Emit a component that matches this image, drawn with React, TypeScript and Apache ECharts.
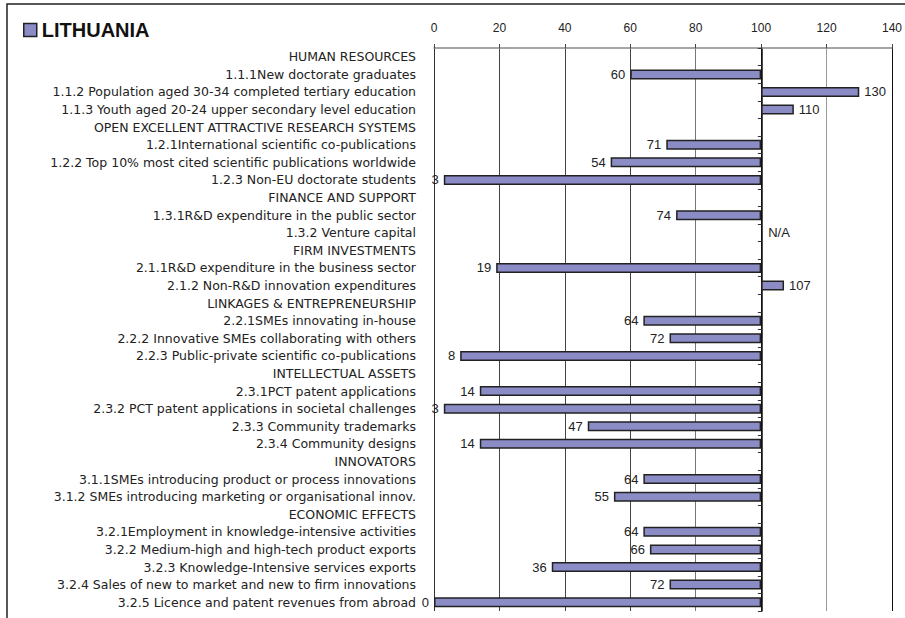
import React, { useEffect, useRef } from 'react';
import * as echarts from 'echarts';

const title = 'LITHUANIA';

const categories: string[] = [
  'HUMAN RESOURCES',
  '1.1.1New doctorate graduates',
  '1.1.2 Population aged 30-34 completed tertiary education',
  '1.1.3 Youth aged 20-24 upper secondary level education',
  'OPEN EXCELLENT ATTRACTIVE RESEARCH SYSTEMS',
  '1.2.1International scientific co-publications',
  '1.2.2 Top 10% most cited scientific publications worldwide',
  '1.2.3 Non-EU doctorate students',
  'FINANCE AND SUPPORT',
  '1.3.1R&D expenditure in the public sector',
  '1.3.2 Venture capital',
  'FIRM INVESTMENTS',
  '2.1.1R&D expenditure in the business sector',
  '2.1.2 Non-R&D innovation expenditures',
  'LINKAGES & ENTREPRENEURSHIP',
  '2.2.1SMEs innovating in-house',
  '2.2.2 Innovative SMEs collaborating with others',
  '2.2.3 Public-private scientific co-publications',
  'INTELLECTUAL ASSETS',
  '2.3.1PCT patent applications',
  '2.3.2 PCT patent applications in societal challenges',
  '2.3.3 Community trademarks',
  '2.3.4 Community designs',
  'INNOVATORS',
  '3.1.1SMEs introducing product or process innovations',
  '3.1.2 SMEs introducing marketing or organisational innov.',
  'ECONOMIC EFFECTS',
  '3.2.1Employment in knowledge-intensive activities',
  '3.2.2 Medium-high and high-tech product exports',
  '3.2.3 Knowledge-Intensive services exports',
  '3.2.4 Sales of new to market and new to firm innovations',
  '3.2.5 Licence and patent revenues from abroad',
];

// null = section header (no bar), 'N/A' = not available
const values: (number | string | null)[] = [
  null, 60, 130, 110,
  null, 71, 54, 3,
  null, 74, 'N/A',
  null, 19, 107,
  null, 64, 72, 8,
  null, 14, 3, 47, 14,
  null, 64, 55,
  null, 64, 66, 36, 72, 0,
];

const reference = 100;
const xMin = 0;
const xMax = 140;
const xInterval = 20;

const gridColors = ['#333', '#444', '#444', '#444', '#777', '#111', '#999', '#111'];

export default function App() {
  const ref = useRef<HTMLDivElement>(null);
  useEffect(() => {
    if (!ref.current) return;
    const chart = echarts.init(ref.current, null, { renderer: 'svg' });
    const gridLeft = 434;
    const gridRight = 12;
    const gridWidth = 905 - gridLeft - gridRight;
    const refOffset = -(gridWidth * (reference - xMin)) / (xMax - xMin);

    const baseData = values.map((v) =>
      v === null ? '-' : typeof v === 'string' ? reference : Math.min(v, reference)
    );
    const diffData = values.map((v) => {
      if (v === null) return '-';
      if (typeof v === 'string')
        return { value: 0, itemStyle: { borderWidth: 0 }, label: { position: 'right', distance: 7 } };
      return {
        value: Math.abs(v - reference),
        label: { position: v < reference ? 'left' : 'right' },
      };
    });

    chart.setOption({
      animation: false,
      backgroundColor: '#fff',
      textStyle: { fontFamily: 'Liberation Sans, Arial, sans-serif' },
      legend: {
        data: [{ name: title }],
        left: 23,
        top: 20,
        padding: 0,
        icon: 'rect',
        itemWidth: 13,
        itemHeight: 13,
        itemStyle: { borderColor: '#222', borderWidth: 1.5 },
        textStyle: { fontSize: 20, fontWeight: 'bold', color: '#111', fontFamily: 'Liberation Sans, Arial' },
        selectedMode: false,
      },
      graphic: [
        {
          type: 'rect',
          shape: { x: 7, y: 4, width: 1000, height: 1000 },
          style: { fill: 'none', stroke: '#222', lineWidth: 1.5 },
          silent: true,
        },
      ],
      grid: { left: gridLeft, right: gridRight, top: 48, bottom: 7, containLabel: false },
      xAxis: {
        type: 'value',
        position: 'top',
        min: xMin,
        max: xMax,
        interval: xInterval,
        axisLine: { show: true, lineStyle: { color: '#888', width: 1.5 } },
        axisTick: { show: true, length: 4, lineStyle: { color: '#444' } },
        axisLabel: { margin: 14, fontSize: 12, color: '#222', fontFamily: 'Liberation Sans, Arial' },
        splitLine: { show: true, lineStyle: { color: gridColors, width: 1 } },
      },
      yAxis: [
        {
          type: 'category',
          inverse: true,
          data: categories,
          axisLine: { show: false },
          axisTick: { show: false },
          axisLabel: { margin: 18, fontSize: 12.5, color: '#222', fontFamily: 'DejaVu Sans' },
        },
        {
          type: 'category',
          inverse: true,
          data: categories,
          position: 'left',
          offset: refOffset,
          axisLine: { show: true, lineStyle: { color: '#111', width: 1.5 } },
          axisTick: { show: true, length: 4, lineStyle: { color: '#333' } },
          axisLabel: { show: false },
          splitLine: { show: false },
        },
      ],
      series: [
        {
          name: 'base',
          type: 'bar',
          stack: 'total',
          barWidth: 10,
          silent: true,
          itemStyle: { color: 'transparent' },
          data: baseData,
        },
        {
          name: title,
          type: 'bar',
          stack: 'total',
          barWidth: 10,
          silent: true,
          itemStyle: { color: '#8b8bc6', borderColor: '#222', borderWidth: 1.5 },
          label: {
            show: true,
            distance: 5,
            fontSize: 13,
            color: '#222',
            fontFamily: 'Liberation Sans, Arial',
            formatter: (p: any) => {
              const v = values[p.dataIndex];
              return typeof v === 'number' ? String(v) : 'N/A';
            },
          },
          data: diffData,
        },
      ],
    });
    return () => chart.dispose();
  }, []);
  return (
    <div
      ref={ref}
      style={{ position: 'absolute', left: 0, top: 0, width: 905, height: 618, background: '#fff' }}
    />
  );
}
